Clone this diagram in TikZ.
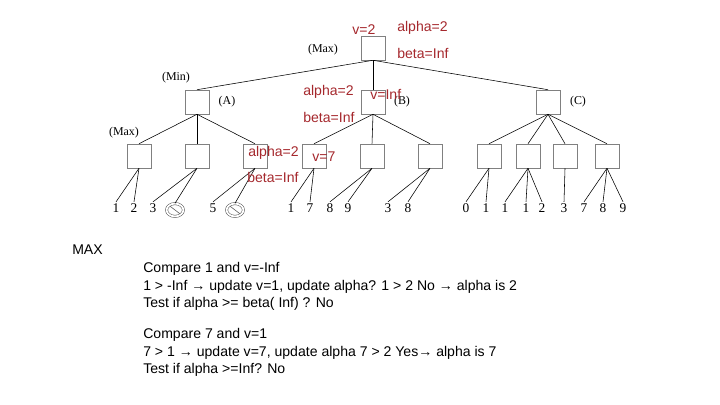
\documentclass[tikz,border=0pt]{standalone}
\usepackage{fontspec}
\setmainfont{Liberation Sans}
\newfontfamily\treefont{Liberation Serif}
\usetikzlibrary{shapes.geometric}

\definecolor{notered}{RGB}{165,40,45}

\begin{document}
\begin{tikzpicture}[
        x = 0.025cm, y = -0.025cm, % one unit = one pixel of the slide
        box/.style = {draw=gray, fill=white, minimum size=0.6cm, inner sep=0pt},
        leaf/.style = {font=\treefont\fontsize{9.5}{11}\selectfont, inner sep=1pt},
        tag/.style = {font=\treefont\fontsize{8.5}{10}\selectfont},
        note/.style = {text=notered, font=\fontsize{10}{12}\selectfont, inner sep=0pt, anchor=west},
        txt/.style = {font=\fontsize{10}{12}\selectfont, inner sep=0pt, anchor=base west},
        pruned/.style = {ellipse, draw=gray!70!black, double, double distance=1.2pt,
                         minimum width=0.42cm, minimum height=0.32cm, inner sep=0pt,
                         path picture={\draw[gray!70!black] (path picture bounding box.north west)
                                        -- (path picture bounding box.south east);}},
        thin
        ]
  \useasboundingbox (0,0) rectangle (720,405);

  % game tree
  \node[box] (root) at (373,48) {};

  \node[box] (A) at (197,102) {};
  \node[box] (B) at (373,102) {};
  \node[box] (C) at (548,102) {};

  \node[box] (m1) at (139,156) {};
  \node[box] (m2) at (197,156) {};
  \node[box] (m3) at (255,156) {};
  \node[box] (m4) at (314,156) {};
  \node[box] (m5) at (372,156) {};
  \node[box] (m6) at (430,156) {};
  \node[box] (m7) at (489,156) {};
  \node[box] (m8) at (528,156) {};
  \node[box] (m9) at (565,156) {};
  \node[box] (m10) at (607,156) {};

  \draw (root.south) -- (A.north);
  \draw (root.south) -- (B.north);
  \draw (root.south) -- (C.north);

  \foreach \c in {m1,m2,m3} \draw (A.south) -- (\c.north);
  \foreach \c in {m4,m5,m6} \draw (B.south) -- (\c.north);
  \foreach \c in {m7,m8,m9,m10} \draw (C.south) -- (\c.north);

  \foreach \x/\v/\p in {116/1/m1, 134/2/m1, 153/3/m2, 213/5/m3,
                        291/1/m4, 310/7/m4, 330/8/m5, 348/9/m5,
                        388/3/m6, 408/8/m6, 466/0/m7, 486/1/m7,
                        505/1/m8, 526/1/m8, 542/2/m8, 564/3/m9,
                        584/7/m10, 603/8/m10, 623/9/m10} {
    \node[leaf] (leaf\x) at (\x,208) {\v};
    \draw (\p.south) -- (leaf\x.north);
  }

  \node[pruned] (cut1) at (175,210) {};
  \node[pruned] (cut2) at (235,210) {};
  \draw (m2.south) -- (cut1.north);
  \draw (m3.south) -- (cut2.north);

  % level tags
  \node[tag] (tmax) at (323,50) {(Max)};
  \node[tag] (tmin) at (176,78) {(Min)};
  \node[tag] (tA) at (227,102) {(A)};
  \node[tag] (tB) at (402,102) {(B)};
  \node[tag] (tC) at (578,102) {(C)};
  \node[tag] (tmax2) at (124,133) {(Max)};

  % values written on the slide
  \node[note] (v0) at (352,30) {v=2};
  \node[note] (a0) at (397,28) {alpha=2};
  \node[note] (b0) at (397,53) {beta=Inf};
  \node[note] (a1) at (303,92) {alpha=2};
  \node[note] (b1) at (303,117) {beta=Inf};
  \node[note] (v1) at (370,94) {v=Inf};
  \node[note] (a2) at (248,153) {alpha=2};
  \node[note] (b2) at (247,177) {beta=Inf};
  \node[note] (v2) at (312,157) {v=7};

  % explanation
  \node[txt] (max) at (72,255) {MAX};
  \node[txt] (s1) at (143,272) {Compare 1 and v=-Inf};
  \node[txt] (s2) at (143,290) {1 > -Inf → update v=1, update alpha? 1 > 2 No → alpha is 2};
  \node[txt] (s3) at (143,307) {Test if alpha >= beta( Inf) ? No};
  \node[txt] (s4) at (143,338) {Compare 7 and v=1};
  \node[txt] (s5) at (143,356) {7 > 1 → update v=7, update alpha 7 > 2 Yes→ alpha is 7};
  \node[txt] (s6) at (143,373) {Test if alpha >=Inf? No};
\end{tikzpicture}
\end{document}
